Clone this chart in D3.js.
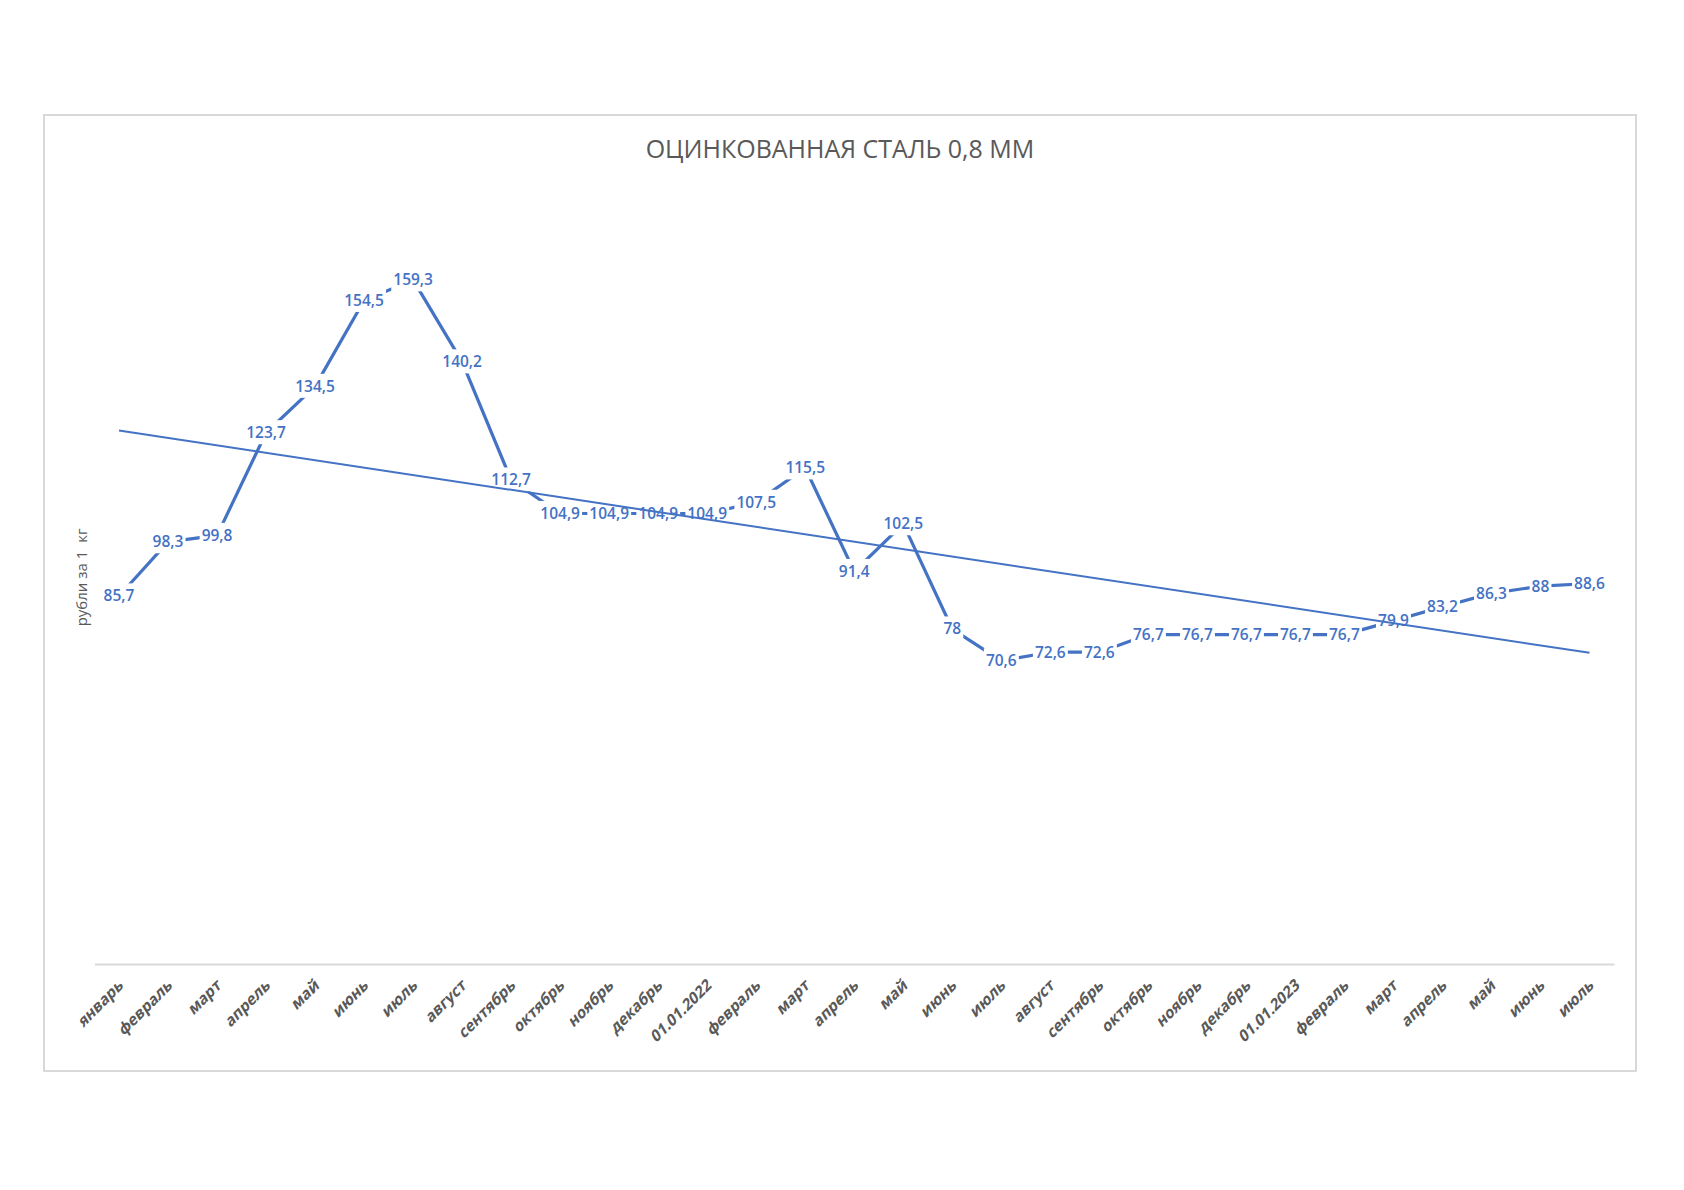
<!DOCTYPE html>
<html lang="ru">
<head>
<meta charset="UTF-8">
<title>Оцинкованная сталь 0,8 мм</title>
<script src="https://d3js.org/d3.v7.min.js"></script>
<style>
    body { margin: 0; background: #fff; }
    text { font-family: "Open Sans", "Noto Sans", sans-serif; }
</style>
</head>
<body>
<svg id="chart" width="1684" height="1190"></svg>
<script>
    const months = ["январь", "февраль", "март", "апрель", "май", "июнь", "июль", "август", "сентябрь",
        "октябрь", "ноябрь", "декабрь", "01.01.2022", "февраль", "март", "апрель", "май", "июнь", "июль",
        "август", "сентябрь", "октябрь", "ноябрь", "декабрь", "01.01.2023", "февраль", "март", "апрель",
        "май", "июнь", "июль"];
    const prices = [85.7, 98.3, 99.8, 123.7, 134.5, 154.5, 159.3, 140.2, 112.7, 104.9, 104.9, 104.9, 104.9,
        107.5, 115.5, 91.4, 102.5, 78, 70.6, 72.6, 72.6, 76.7, 76.7, 76.7, 76.7, 76.7, 79.9, 83.2, 86.3, 88, 88.6];
    const yDomain = [0, 180];
    const title = "ОЦИНКОВАННАЯ СТАЛЬ 0,8 ММ";
    const yTitle = "рубли за 1  кг";

    const data = months.map((m, i) => ({ key: i, label: m, value: prices[i] }));

    const svg = d3.select("#chart");
    const blue = "#4472C4";
    const grey = "#595959";

    // chart frame
    svg.append("rect")
        .attr("x", 44).attr("y", 115)
        .attr("width", 1592).attr("height", 956)
        .attr("fill", "#fff")
        .attr("stroke", "#d9d9d9").attr("stroke-width", 2);

    const plot = { left: 94.5, right: 1614, top: 191, bottom: 964 };

    const x = d3.scaleBand()
        .domain(data.map(d => d.key))
        .range([plot.left, plot.right]);
    const y = d3.scaleLinear()
        .domain(yDomain)
        .range([plot.bottom, plot.top]);
    const cx = d => x(d.key) + x.bandwidth() / 2;

    svg.append("text")
        .attr("x", 840).attr("y", 158)
        .attr("text-anchor", "middle")
        .attr("font-size", 25)
        .attr("fill", grey)
        .text(title);

    svg.append("text")
        .attr("transform", "translate(87," + ((plot.top + plot.bottom) / 2) + ") rotate(-90)")
        .attr("text-anchor", "middle")
        .attr("font-size", 15)
        .attr("fill", grey)
        .style("white-space", "pre")
        .text(yTitle);

    // x axis
    const xAxis = svg.append("g")
        .attr("transform", "translate(0," + plot.bottom + ")")
        .call(d3.axisBottom(x).tickSize(0).tickFormat(k => data[k].label));
    xAxis.select(".domain").attr("stroke", "#d9d9d9").attr("stroke-width", 2);
    xAxis.selectAll(".tick text")
        .attr("y", 0).attr("dy", 0)
        .attr("transform", "translate(5,23) rotate(-45) skewX(-14)")
        .attr("text-anchor", "end")
        .attr("font-family", "'Open Sans', sans-serif")
        .attr("font-size", 15.5)
        .attr("font-weight", "bold")
        .attr("fill", grey);

    // data line
    const line = d3.line().x(cx).y(d => y(d.value));
    svg.append("path")
        .datum(data)
        .attr("d", line)
        .attr("fill", "none")
        .attr("stroke", blue)
        .attr("stroke-width", 3.2)
        .attr("stroke-linejoin", "round");

    // label backgrounds cut the line
    const labelG = svg.append("g");
    const labels = data.map(d => {
        const t = labelG.append("text")
            .attr("x", cx(d)).attr("y", y(d.value))
            .attr("dy", "0.35em")
            .attr("text-anchor", "middle")
            .attr("font-size", 15.5)
            .attr("font-weight", 600)
            .attr("fill", blue)
            .text(String(d.value).replace(".", ","));
        return t;
    });
    const bgG = svg.insert("g", () => labelG.node());
    labels.forEach(t => {
        const b = t.node().getBBox();
        bgG.append("rect")
            .attr("x", b.x - 2).attr("y", b.y - 1)
            .attr("width", b.width + 4).attr("height", b.height + 2)
            .attr("fill", "#fff");
    });

    // linear trend
    const n = data.length;
    const mx = d3.mean(data, d => d.key);
    const my = d3.mean(data, d => d.value);
    const slope = d3.sum(data, d => (d.key - mx) * (d.value - my)) / d3.sum(data, d => (d.key - mx) ** 2);
    const trend = [data[0], data[n - 1]].map(d => ({ key: d.key, value: my + slope * (d.key - mx) }));
    svg.insert("path", () => labelG.node())
        .datum(trend)
        .attr("d", line)
        .attr("fill", "none")
        .attr("stroke", blue)
        .attr("stroke-width", 2);
</script>
</body>
</html>
